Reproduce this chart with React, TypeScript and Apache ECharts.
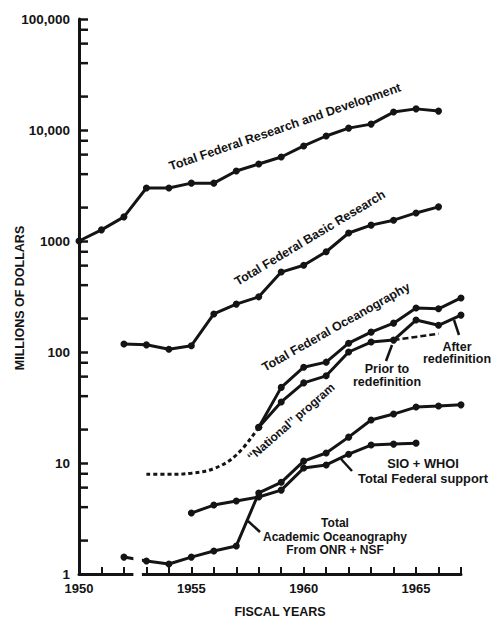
import React, { useEffect, useRef } from "react";
import * as echarts from "echarts";

const INK = "#141414";
const FONT = '"Liberation Sans", Arial, sans-serif';

// ---- Data (millions of dollars, by fiscal year) ----
const rdYears = [1950, 1951, 1952, 1953, 1954, 1955, 1956, 1957, 1958, 1959, 1960, 1961, 1962, 1963, 1964, 1965, 1966];
const rdValues = [1000, 1260, 1650, 3000, 3000, 3320, 3320, 4270, 4940, 5710, 7180, 8830, 10400, 11300, 14500, 15500, 14800];

const basicYears = [1952, 1953, 1954, 1955, 1956, 1957, 1958, 1959, 1960, 1961, 1962, 1963, 1964, 1965, 1966];
const basicValues = [118, 116, 106, 114, 220, 270, 314, 525, 605, 800, 1180, 1390, 1540, 1790, 2030];

const oceanYears = [1958, 1959, 1960, 1961, 1962, 1963, 1964, 1965, 1966, 1967];
const oceanValues = [21, 48, 73, 81, 120, 151, 182, 249, 245, 307];

const nationalYears = [1958, 1959, 1960, 1961, 1962, 1963, 1964, 1965, 1966, 1967];
const nationalValues = [21, 35.5, 52.7, 61, 100, 123, 128, 194, 174, 215];

const nationalEarlyYears = [1953, 1954, 1955, 1956, 1957, 1958];
const nationalEarlyValues = [7.9, 7.9, 8.1, 8.9, 11.8, 21];

const priorYears = [1964, 1966];
const priorValues = [128, 146];

const academicYears = [1952, 1953, 1954, 1955, 1956, 1957, 1958, 1959, 1960, 1961, 1962, 1963, 1964, 1965, 1966, 1967];
const academicValues = [1.42, 1.31, 1.23, 1.42, 1.61, 1.79, 5.37, 6.7, 10.4, 12.3, 17.1, 24.4, 27.6, 31.9, 32.6, 33.4];

const sioYears = [1955, 1956, 1957, 1958, 1959, 1960, 1961, 1962, 1963, 1964, 1965];
const sioValues = [3.54, 4.18, 4.55, 4.94, 5.7, 9.0, 9.6, 12.0, 14.5, 14.8, 15.1];

const yTickLabels: Record<number, string> = { 1: "1", 10: "10", 100: "100", 1000: "1000", 10000: "10,000", 100000: "100,000" };
const xLabelYears = [1950, 1955, 1960, 1965];
const minorTickValues = [2, 4, 6, 8, 20, 40, 60, 80, 200, 400, 600, 800, 2000, 4000, 6000, 8000, 20000, 40000, 60000, 80000];
const axisBreak = [1952.42, 1952.8];

const zip = (ys: number[], vs: number[]) => ys.map((y, i) => [y, vs[i]]);

export default function App() {
  const ref = useRef<HTMLDivElement>(null);

  useEffect(() => {
    if (!ref.current) return;
    const chart = echarts.init(ref.current, null, { renderer: "svg" });

    const solid = (name: string, data: number[][], extra: any = {}) => ({
      type: "line",
      name,
      data,
      symbol: "circle",
      symbolSize: 7,
      lineStyle: { color: INK, width: 3 },
      itemStyle: { color: INK },
      z: 3,
      ...extra,
    });

    chart.setOption({
      animation: false,
      backgroundColor: "#fff",
      grid: { left: 79, right: 32, top: 19, bottom: 46 },
      xAxis: {
        type: "value",
        min: 1950,
        max: 1967,
        interval: 1,
        axisLine: { lineStyle: { color: INK, width: 3 } },
        axisTick: { inside: true, length: 7, lineStyle: { color: INK, width: 2 } },
        axisLabel: {
          margin: 8,
          color: INK,
          fontFamily: FONT,
          fontWeight: "bold",
          fontSize: 13,
          formatter: (v: number) => (xLabelYears.includes(v) ? String(v) : ""),
        },
        splitLine: { show: false },
      },
      yAxis: {
        type: "log",
        logBase: 10,
        min: 1,
        max: 100000,
        axisLine: { lineStyle: { color: INK, width: 3 } },
        axisTick: { inside: true, length: 9, lineStyle: { color: INK, width: 2.5 } },
        axisLabel: {
          margin: 9,
          color: INK,
          fontFamily: FONT,
          fontWeight: "bold",
          fontSize: 13.5,
          formatter: (v: number) => yTickLabels[Math.round(v)] ?? "",
        },
        splitLine: { show: false },
      },
      series: [
        {
          type: "custom",
          name: "minorTicks",
          data: minorTickValues.map((v) => [1950, v]),
          encode: { x: 0, y: 1 },
          silent: true,
          clip: false,
          z: 5,
          renderItem: (_p: any, api: any) => {
            const pt = api.coord([api.value(0), api.value(1)]);
            return {
              type: "line",
              shape: { x1: pt[0], y1: pt[1], x2: pt[0] + 9, y2: pt[1] },
              style: { stroke: INK, lineWidth: 2.5 },
            };
          },
        },
        solid("Total Federal Research and Development", zip(rdYears, rdValues)),
        solid("Total Federal Basic Research", zip(basicYears, basicValues)),
        solid("Total Federal Oceanography", zip(oceanYears, oceanValues)),
        solid("National program (after redefinition)", zip(nationalYears, nationalValues)),
        {
          type: "line",
          name: "National program (early)",
          data: zip(nationalEarlyYears, nationalEarlyValues),
          showSymbol: false,
          smooth: 0.4,
          lineStyle: { color: INK, width: 3, type: [4, 3] },
          z: 3,
        },
        {
          type: "line",
          name: "Prior to redefinition",
          data: zip(priorYears, priorValues),
          showSymbol: false,
          lineStyle: { color: INK, width: 2.5, type: [6, 3] },
          z: 3,
        },
        solid("Total Academic Oceanography from ONR + NSF", zip(academicYears, academicValues)),
        solid("SIO + WHOI Total Federal support", zip(sioYears, sioValues)),
      ],
    });

    const a = chart.convertToPixel({ gridIndex: 0 }, [axisBreak[0], 1]) as number[];
    const b = chart.convertToPixel({ gridIndex: 0 }, [axisBreak[1], 1]) as number[];

    const deg = (d: number) => (d * Math.PI) / 180;
    const txt = (text: string, x: number, y: number, size: number, rot = 0, lh?: number) => ({
      type: "text",
      x,
      y,
      rotation: deg(rot),
      z: 60,
      style: {
        text,
        fill: INK,
        fontFamily: FONT,
        fontWeight: "bold",
        fontSize: size,
        align: "center",
        verticalAlign: "middle",
        lineHeight: lh ?? size * 1.1,
      },
    });
    const pointer = (x1: number, y1: number, x2: number, y2: number) => ({
      type: "line",
      z: 60,
      shape: { x1, y1, x2, y2 },
      style: { stroke: INK, lineWidth: 2.5 },
    });

    chart.setOption({
      graphic: {
        elements: [
          {
            type: "rect",
            z: 50,
            shape: { x: a[0], y: a[1] - 30, width: b[0] - a[0], height: 36 },
            style: { fill: "#fff" },
          },
          txt("Total Federal Research and Development", 285, 127, 12.5, 19),
          txt("Total Federal Basic Research", 310, 238, 12.5, 31),
          txt("Total Federal Oceanography", 336, 327, 12.5, 29.5),
          txt("\u2018\u2018National\u2019\u2019 program", 291, 422, 12, 41),
          txt("Prior to\nredefinition", 387, 375.5, 12.5, 0, 13),
          txt("After\nredefinition", 457, 353, 12.5, 0, 12.5),
          txt("SIO + WHOI\nTotal Federal support", 423, 470.5, 12.8, 0, 15),
          txt("Total\nAcademic Oceanography\nFrom ONR + NSF", 335, 536.5, 12, 0, 13.5),
          txt("MILLIONS OF DOLLARS", 20, 298, 12.5, 90),
          txt("FISCAL YEARS", 280, 612, 12.5, 0),
          pointer(392, 345, 386, 361),
          pointer(454, 320, 459, 335),
          pointer(341, 459, 352, 471),
          pointer(248, 521, 260, 532),
        ],
      },
    });

    return () => chart.dispose();
  }, []);

  return (
    <div
      ref={ref}
      style={{ position: "fixed", left: 0, top: 0, width: 493, height: 620, background: "#fff" }}
    />
  );
}
